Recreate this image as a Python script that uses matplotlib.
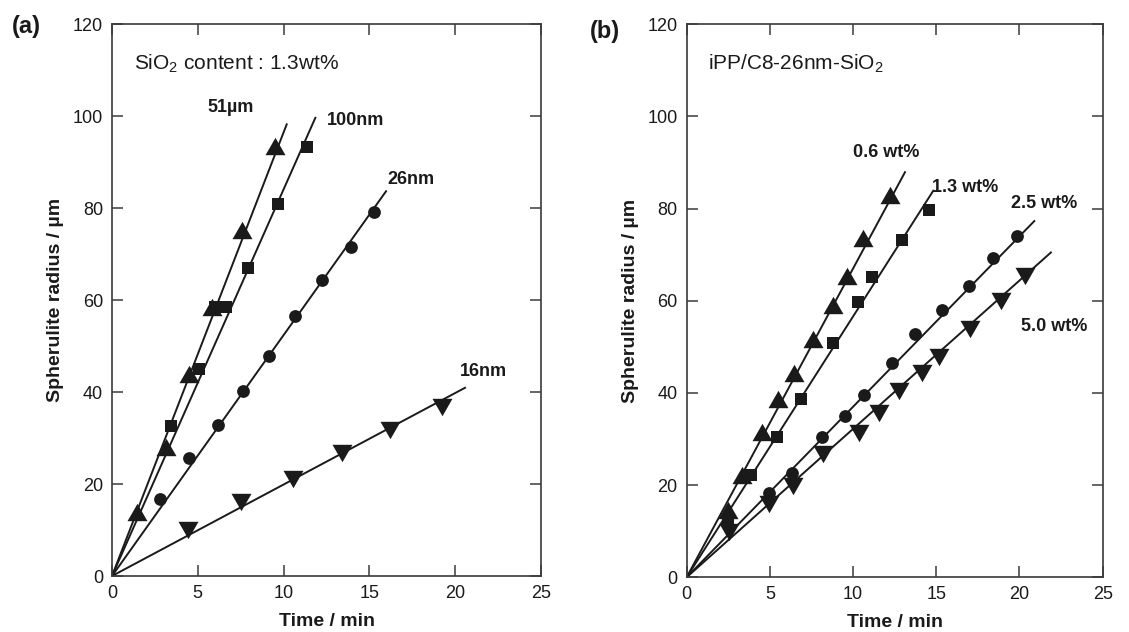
import matplotlib
matplotlib.use("Agg")
import matplotlib.pyplot as plt
import numpy as np

plt.rcParams['font.family'] = ['Liberation Sans', 'DejaVu Sans']
plt.rcParams['mathtext.fontset'] = 'custom'
plt.rcParams['mathtext.rm'] = 'Liberation Sans'
plt.rcParams['mathtext.it'] = 'Liberation Sans:italic'
plt.rcParams['mathtext.bf'] = 'Liberation Sans:bold'

# ---------------- Panel (a) data: SiO2 content 1.3 wt% ----------------
a_labels = ["51\u00b5m", "100nm", "26nm", "16nm"]
a_markers = ["tri_up", "s", "o", "tri_down"]

a_51um_t = [1.44, 3.13, 4.47, 5.81, 7.56, 9.50]
a_51um_r = [13.9, 28.1, 43.9, 58.4, 75.2, 93.5]

a_100nm_t = [3.42, 5.09, 6.00, 6.63, 7.93, 9.69, 11.38]
a_100nm_r = [32.7, 45.1, 58.4, 58.4, 66.9, 80.9, 93.3]

a_26nm_t = [2.80, 4.49, 6.20, 7.65, 9.17, 10.64, 12.24, 13.93, 15.27]
a_26nm_r = [16.7, 25.6, 32.8, 40.3, 47.8, 56.5, 64.3, 71.6, 79.1]

a_16nm_t = [4.45, 7.50, 10.57, 13.38, 16.20, 19.21]
a_16nm_r = [10.0, 16.2, 21.0, 26.7, 31.7, 36.7]

# fitted lines through origin: slope (um/min) and end time
a_slopes = [9.65, 8.41, 5.24, 1.99]
a_line_end = [10.18, 11.85, 15.97, 20.57]
# label positions (time, radius)
a_label_t = [6.92, 14.18, 17.42, 21.64]
a_label_r = [101.9, 99.1, 86.2, 44.4]

# ---------------- Panel (b) data: iPP/C8-26nm-SiO2 ----------------
b_labels = ["0.6 wt%", "1.3 wt%", "2.5 wt%", "5.0 wt%"]
b_markers = ["tri_up", "s", "o", "tri_down"]

b_06_t = [2.46, 3.30, 4.54, 5.50, 6.45, 7.57, 8.81, 9.61, 10.61, 12.22]
b_06_r = [14.6, 22.2, 31.6, 38.7, 44.4, 51.6, 59.1, 65.4, 73.6, 83.0]

b_13_t = [2.46, 3.86, 5.45, 6.87, 8.81, 10.31, 11.16, 12.92, 14.56]
b_13_r = [12.4, 22.1, 30.4, 38.7, 50.8, 59.8, 65.1, 73.2, 79.6]

b_25_t = [4.97, 6.31, 8.11, 9.51, 10.66, 12.32, 13.72, 15.32, 16.97, 18.39, 19.87]
b_25_r = [18.2, 22.6, 30.4, 34.9, 39.6, 46.6, 52.7, 58.0, 63.3, 69.2, 74.1]

b_50_t = [2.56, 4.97, 6.41, 8.21, 10.37, 11.54, 12.78, 14.12, 15.16, 17.03, 18.87, 20.33]
b_50_r = [9.9, 15.9, 19.7, 26.8, 31.2, 35.6, 40.5, 44.4, 47.9, 53.8, 60.0, 65.4]

b_slopes = [6.70, 5.66, 3.70, 3.22]
b_line_end = [13.12, 14.82, 20.89, 21.89]
b_label_t = [11.96, 16.74, 21.48, 22.08]
b_label_r = [92.2, 84.6, 81.0, 54.5]

x_ticks = [0, 5, 10, 15, 20, 25]
y_ticks = [0, 20, 40, 60, 80, 100, 120]

# ---------------- styling ----------------
INK = '#1a1a1a'
SPINE = '#3a3a3a'
tri_up = [(-1, -0.87), (1, -0.87), (0, 0.87)]
tri_dn = [(-1, 0.87), (1, 0.87), (0, -0.87)]
marker_map = {"tri_up": (tri_up, 14.4), "tri_down": (tri_dn, 14.4),
              "s": ("s", 8.5), "o": ("o", 9.2)}

fig = plt.figure(figsize=(11.29, 6.32), dpi=100)
ax_a = fig.add_axes([0.0992, 0.0886, 0.3800, 0.8730])
ax_b = fig.add_axes([0.6082, 0.0866, 0.3685, 0.8750])


def style_axes(ax):
    ax.set_xlim(0, 25)
    ax.set_ylim(0, 120)
    ax.set_xticks(x_ticks)
    ax.set_yticks(y_ticks)
    ax.tick_params(direction='in', length=8, width=1.1, color=SPINE,
                   top=True, right=True, labelsize=13, pad=6.5,
                   labelcolor=INK)
    for s in ax.spines.values():
        s.set_linewidth(1.2)
        s.set_color(SPINE)
    ax.set_xlabel("Time / min", fontsize=14, fontweight='bold', color=INK,
                  labelpad=8)
    ax.set_ylabel("Spherulite radius / \u00b5m", fontsize=14,
                  fontweight='bold', color=INK, labelpad=6)


def draw_panel(ax, series, markers, slopes, ends, labels, lt, lr):
    for (t, r), mk, k, te, lab, x, y in zip(series, markers, slopes, ends,
                                            labels, lt, lr):
        tt = np.array([0.0, te])
        ax.plot(tt, k * tt, color=INK, lw=1.4, zorder=2)
        m, ms = marker_map[mk]
        ax.plot(t, r, linestyle='none', marker=m, markersize=ms,
                color=INK, markeredgewidth=0, zorder=3, clip_on=False)
        ax.text(x, y, lab, fontsize=13, fontweight='bold', color=INK,
                ha='center', va='center')


style_axes(ax_a)
draw_panel(ax_a,
           [(a_51um_t, a_51um_r), (a_100nm_t, a_100nm_r),
            (a_26nm_t, a_26nm_r), (a_16nm_t, a_16nm_r)],
           a_markers, a_slopes, a_line_end, a_labels, a_label_t, a_label_r)
ax_a.text(1.3, 111.5, r"SiO$_2$ content : 1.3wt%", fontsize=15,
          color=INK, ha='left', va='center')

style_axes(ax_b)
draw_panel(ax_b,
           [(b_06_t, b_06_r), (b_13_t, b_13_r),
            (b_25_t, b_25_r), (b_50_t, b_50_r)],
           b_markers, b_slopes, b_line_end, b_labels, b_label_t, b_label_r)
ax_b.text(1.3, 111.5, r"iPP/C8-26nm-SiO$_2$", fontsize=15,
          color=INK, ha='left', va='center')

fig.text(26.7 / 1129, 1 - 26.7 / 632, "(a)", fontsize=17, fontweight='bold',
         color=INK, ha='center', va='center')
fig.text(605 / 1129, 1 - 31.7 / 632, "(b)", fontsize=17, fontweight='bold',
         color=INK, ha='center', va='center')

fig.savefig("out.png", dpi=100)
